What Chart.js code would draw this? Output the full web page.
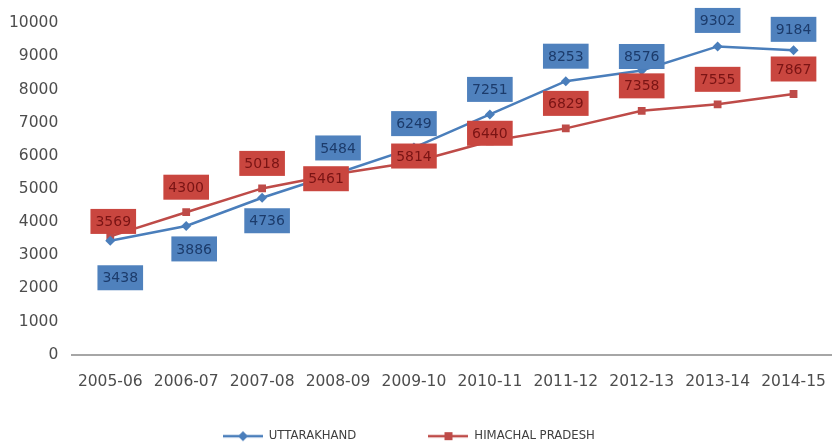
<!DOCTYPE html>
<html>
<head>
<meta charset="utf-8">
<script src="https://cdn.jsdelivr.net/npm/chart.js@4.4.0/dist/chart.umd.min.js"></script>
<style>
  html, body { margin: 0; padding: 0; background: #fff; }
  #wrap { width: 837px; height: 442px; }
</style>
</head>
<body>
<div id="wrap"><canvas id="chart"></canvas></div>
<script>
var years = ['2005-06', '2006-07', '2007-08', '2008-09', '2009-10', '2010-11', '2011-12', '2012-13', '2013-14', '2014-15'];
var uttarakhand = [3438, 3886, 4736, 5484, 6249, 7251, 8253, 8576, 9302, 9184];
var himachal = [3569, 4300, 5018, 5461, 5814, 6440, 6829, 7358, 7555, 7867];

var blue = '#4a7ebb';
var red = '#be4b48';

// small line+marker picture for the legend
function legendIcon(color, shape) {
  var c = document.createElement('canvas');
  c.width = 40; c.height = 12;
  var ctx = c.getContext('2d');
  ctx.strokeStyle = color;
  ctx.lineWidth = 2.5;
  ctx.beginPath(); ctx.moveTo(0, 6); ctx.lineTo(40, 6); ctx.stroke();
  ctx.fillStyle = color;
  if (shape == 'diamond') {
    ctx.beginPath();
    ctx.moveTo(20, 1); ctx.lineTo(25, 6); ctx.lineTo(20, 11); ctx.lineTo(15, 6);
    ctx.closePath(); ctx.fill();
  } else {
    ctx.fillRect(16, 2, 8, 8);
  }
  return c;
}
var icons = [legendIcon(blue, 'diamond'), legendIcon(red, 'square')];

// boxed value labels, offsets relative to the point
var boxLabels = {
  id: 'boxLabels',
  afterDatasetsDraw: function(chart, args, opts) {
    var ctx = chart.ctx;
    ctx.save();
    ctx.font = '14px "DejaVu Sans"';
    ctx.textAlign = 'center';
    ctx.textBaseline = 'middle';
    chart.data.datasets.forEach(function(ds, di) {
      var meta = chart.getDatasetMeta(di);
      var st = opts.styles[di];
      meta.data.forEach(function(pt, i) {
        var txt = String(ds.data[i]);
        var x = pt.x + st.dx[i];
        var y = pt.y + st.dy[i];
        var w = ctx.measureText(txt).width + 10;
        var h = 25;
        ctx.fillStyle = st.fill;
        ctx.fillRect(x - w / 2, y - h / 2, w, h);
        ctx.fillStyle = st.text;
        ctx.fillText(txt, x, y + 1);
      });
    });
    ctx.restore();
  }
};

new Chart(document.getElementById('chart'), {
  type: 'line',
  data: {
    labels: years,
    datasets: [{
      label: 'UTTARAKHAND',
      data: uttarakhand,
      borderColor: blue,
      backgroundColor: blue,
      borderWidth: 2.5,
      pointStyle: 'rectRot',
      pointRadius: 5,
      pointBorderWidth: 0,
      tension: 0
    }, {
      label: 'HIMACHAL PRADESH',
      data: himachal,
      borderColor: red,
      backgroundColor: red,
      borderWidth: 2.5,
      pointStyle: 'rect',
      pointRadius: 5.5,
      pointBorderWidth: 0,
      tension: 0
    }]
  },
  options: {
    responsive: true,
    maintainAspectRatio: false,
    animation: false,
    layout: { padding: { top: 9, left: -5, right: -23, bottom: -10 } },
    scales: {
      x: {
        offset: true,
        grid: { display: false, drawTicks: true, tickLength: 14 },
        border: { display: true, color: '#a6a6a6', width: 2 },
        ticks: { color: '#4d4d4d', padding: 4, maxRotation: 0, font: { family: 'DejaVu Sans', size: 15.5 } }
      },
      y: {
        min: 0,
        max: 10000,
        grid: { display: false, drawTicks: false },
        border: { display: false },
        ticks: {
          stepSize: 1000, color: '#4d4d4d', padding: 14,
          font: { family: 'DejaVu Sans', size: 15.5 },
          callback: function(v) { return String(v); }
        }
      }
    },
    plugins: {
      tooltip: { enabled: false },
      legend: {
        position: 'bottom',
        labels: {
          usePointStyle: true,
          pointStyleWidth: 40,
          padding: 35,
          color: '#404040',
          font: { family: 'DejaVu Sans', size: 11.7 },
          generateLabels: function(chart) {
            var items = Chart.defaults.plugins.legend.labels.generateLabels(chart);
            items.forEach(function(it, i) {
              it.pointStyle = icons[i];
              it.text = it.text + '          ';
            });
            return items;
          }
        }
      },
      boxLabels: {
        styles: [
          { fill: '#4f81bd', text: '#1c3b6b',
            dx: [10, 8, 5, 0, 0, 0, 0, 0, 0, 0],
            dy: [37, 23, 23, -25, -24, -25, -25, -14, -26, -21] },
          { fill: '#c9463f', text: '#7a1414',
            dx: [3, 0, 0, -12, 0, 0, 0, 0, 0, 0],
            dy: [-15, -25, -25, 5, -6, -8, -25, -25, -25, -25] }
        ]
      }
    }
  },
  plugins: [boxLabels]
});
</script>
</body>
</html>
